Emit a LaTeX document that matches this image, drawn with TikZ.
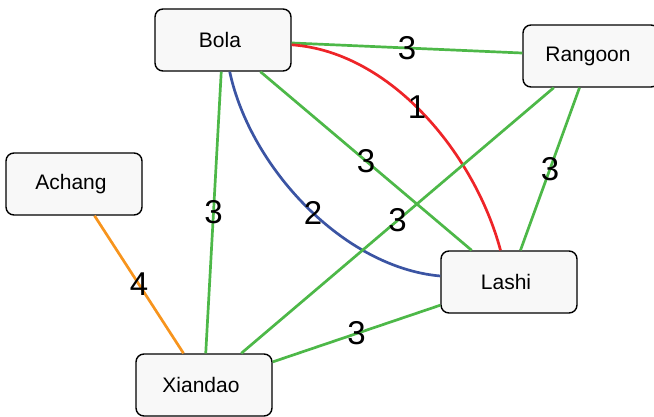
\documentclass[tikz,border=0pt]{standalone}
\usepackage{fontspec}
\setmainfont{Liberation Sans}
\definecolor{egreen}{HTML}{4DB848}
\definecolor{ered}{HTML}{EE2428}
\definecolor{eblue}{HTML}{3B54A3}
\definecolor{eorange}{HTML}{F7941D}
\definecolor{boxfill}{HTML}{F8F8F8}
\tikzset{
  city/.style={draw=black, line width=1.4pt, fill=boxfill, rounded corners=8pt,
    minimum width=136pt, minimum height=62pt, inner sep=0pt,
    font=\fontsize{21}{25}\selectfont, execute at begin node={\hspace*{-6pt}}},
  road/.style={line width=2.7pt},
  wt/.style={font=\fontsize{33}{38}\selectfont, inner sep=0pt, text=black}
}
\begin{document}
\begin{tikzpicture}[x=1pt,y=-1pt]
\useasboundingbox (0,0) rectangle (654,416);
\node[city] (bola) at (223,40) {Bola};
\node[city] (rangoon) at (591,56) {Rangoon};
\node[city] (achang) at (74,184) {Achang};
\node[city] (lashi) at (509,282) {Lashi};
\node[city] (xiandao) at (204,385) {Xiandao};
\draw[road, egreen] (bola) -- node[wt] {3} (rangoon);
\draw[road, ered] (bola) to[out=-4, in=105, looseness=0.87] node[wt, pos=0.47] {1} (lashi);
\draw[road, eblue] (bola) to[out=-78, in=175, looseness=0.85] node[wt, pos=0.53] {2} (lashi);
\draw[road, egreen] (bola) -- node[wt] {3} (lashi);
\draw[road, egreen] (bola) -- node[wt] {3} (xiandao);
\draw[road, egreen] (rangoon) -- node[wt] {3} (xiandao);
\draw[road, egreen] (rangoon) -- node[wt] {3} (lashi);
\draw[road, egreen] (lashi) -- node[wt] {3} (xiandao);
\draw[road, eorange] (achang) -- node[wt] {4} (xiandao);
\end{tikzpicture}
\end{document}
